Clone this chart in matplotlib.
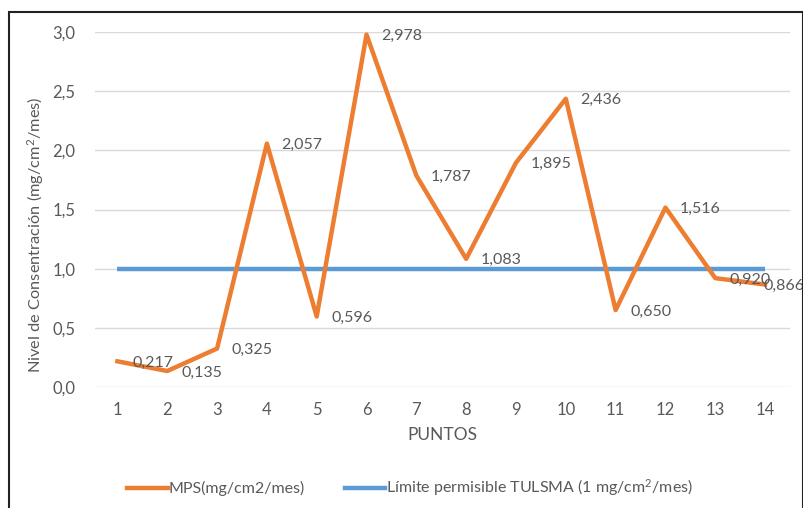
import matplotlib
matplotlib.use("Agg")
import matplotlib.pyplot as plt
from matplotlib.lines import Line2D
from matplotlib.patches import Rectangle

puntos = list(range(1, 15))
mps = [0.217, 0.135, 0.325, 2.057, 0.596, 2.978, 1.787, 1.083, 1.895, 2.436, 0.650, 1.516, 0.920, 0.866]
limite = [1.0] * 14
labels = ["0,217", "0,135", "0,325", "2,057", "0,596", "2,978", "1,787", "1,083", "1,895", "2,436", "0,650", "1,516", "0,920", "0,866"]
yticks = [0.0, 0.5, 1.0, 1.5, 2.0, 2.5, 3.0]
ytick_labels = ["0,0", "0,5", "1,0", "1,5", "2,0", "2,5", "3,0"]

plt.rcParams['font.family'] = ['Lato', 'DejaVu Sans']
plt.rcParams['mathtext.fontset'] = 'custom'
plt.rcParams['mathtext.rm'] = 'Lato'
plt.rcParams['mathtext.it'] = 'Lato:italic'
gray = '#595959'
orange = '#ED7D31'
blue = '#5B9BD5'

fig = plt.figure(figsize=(8.04, 5.08), dpi=100)
ax = fig.add_axes([95/804, 1-387/508, (790-95)/804, (387-32)/508])

ax.plot(puntos, limite, color=blue, lw=3.2, solid_capstyle='butt', zorder=3)
ax.plot(puntos, mps, color=orange, lw=3.2, solid_joinstyle='round', zorder=4)
for i, (x, y, t) in enumerate(zip(puntos, mps, labels)):
    if i < len(puntos) - 1:
        dx, dy = 10.5, -1
    else:
        dx, dy = -1, -1
    ax.annotate(t, (x, y), xytext=(dx, dy), textcoords='offset points',
                ha='left', va='center', fontsize=11.5, color=gray, zorder=5,
                annotation_clip=False)

ax.set_xlim(0.55, 14.5)
ax.set_ylim(0, 3.0)
ax.set_yticks(yticks)
ax.set_yticklabels(ytick_labels)
ax.set_xticks(puntos)
ax.grid(axis='y', color='#D9D9D9', lw=1)
ax.set_axisbelow(True)
for s in ax.spines.values():
    s.set_visible(False)
ax.tick_params(length=0, colors=gray, labelsize=12)
ax.tick_params(axis='x', pad=11)
ax.tick_params(axis='y', pad=14)
ax.set_xlabel('PUNTOS', color=gray, fontsize=12.5, labelpad=6)
ax.set_ylabel('Nivel de Consentración (mg/cm$^\\mathrm{2}$/mes)', color=gray, fontsize=11.8)
ax.yaxis.set_label_coords(-0.07, 0.43)

handles = [Line2D([], [], color=orange, lw=3.2), Line2D([], [], color=blue, lw=3.2)]
leg = fig.legend(handles, ['MPS(mg/cm2/mes)', 'Límite permisible TULSMA (1 mg/cm$^\\mathrm{2}$/mes)'],
                 loc='center', bbox_to_anchor=(410/804, 1-488/508), ncol=2, frameon=False,
                 fontsize=11.5, handlelength=2.55, handletextpad=0.05, columnspacing=2.5)
for t in leg.get_texts():
    t.set_color(gray)

# outer frame
fig.patches.append(Rectangle((9/804, -0.05), (803-9)/804, 1.05 - 12/508, transform=fig.transFigure,
                             fill=False, edgecolor='#222222', lw=1.5, zorder=0))

fig.savefig('out.png', dpi=100)
